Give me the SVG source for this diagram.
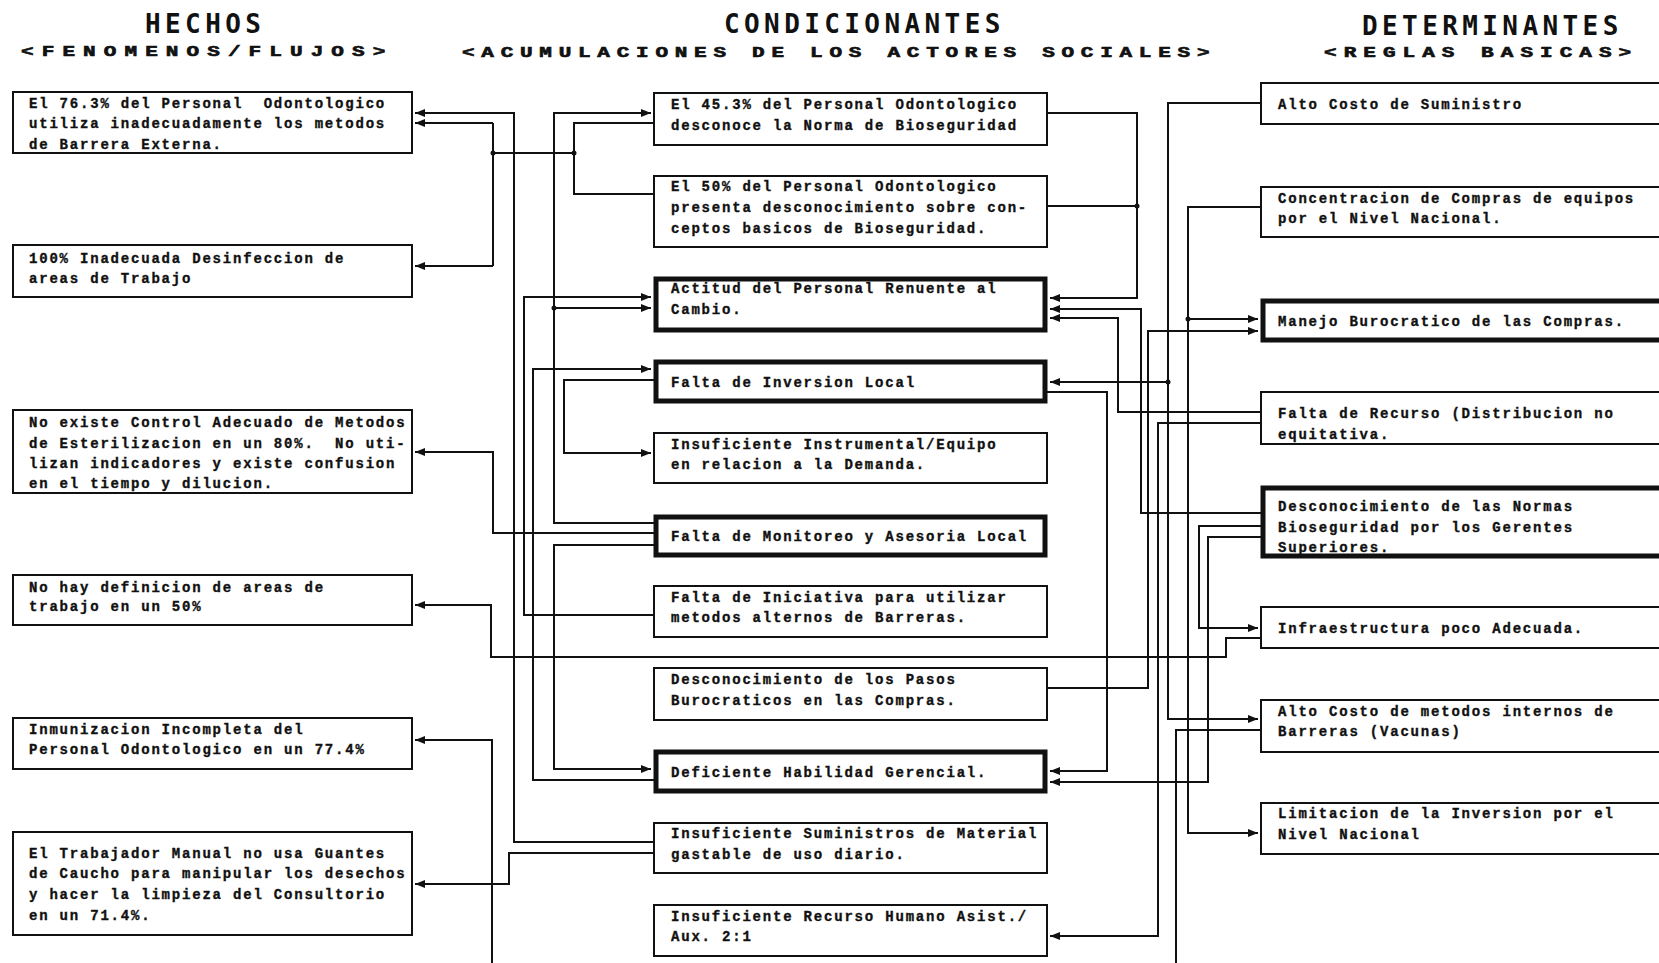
<svg xmlns="http://www.w3.org/2000/svg" width="1659" height="963" viewBox="0 0 1659 963">
<style>
.t{font-family:"Liberation Mono","DejaVu Sans Mono",monospace;font-size:14px;font-weight:bold;letter-spacing:1.8px;fill:#111;stroke:#111;stroke-width:0.35;white-space:pre}
.h{font-family:"DejaVu Sans Mono","Liberation Mono",monospace;font-size:26px;font-weight:bold;letter-spacing:4.4px;fill:#111}
.s{font-family:"Liberation Mono","DejaVu Sans Mono",monospace;font-size:14px;font-weight:bold;fill:#111;stroke:#111;stroke-width:0.6;white-space:pre}
.box{fill:#fff;stroke:#111;stroke-width:2}
.thick{fill:#fff;stroke:#111;stroke-width:5}
.c{fill:none;stroke:#111;stroke-width:2}
.a{fill:none;stroke:#111;stroke-width:2;marker-end:url(#ah)}
.j{fill:#111}
</style>
<defs>
<marker id="ah" viewBox="0 0 10 8" refX="10" refY="4" markerWidth="10" markerHeight="8" markerUnits="userSpaceOnUse" orient="auto"><path d="M0,0 L10,4 L0,8 z" fill="#111"/></marker>
</defs>
<rect width="1659" height="963" fill="#fff"/>
<g id="titles">
<text class="h" x="145" y="33">HECHOS</text>
<text class="s" transform="translate(21,56) scale(1.5,1)" letter-spacing="5.4">&lt;FENOMENOS/FLUJOS&gt;</text>
<text class="h" x="724" y="33">CONDICIONANTES</text>
<text class="s" transform="translate(462,57) scale(1.5,1)" letter-spacing="4.5">&lt;ACUMULACIONES DE LOS ACTORES SOCIALES&gt;</text>
<text class="h" x="1362" y="35">DETERMINANTES</text>
<text class="s" transform="translate(1324,57) scale(1.5,1)" letter-spacing="4.7">&lt;REGLAS BASICAS&gt;</text>
</g>
<g id="connectors">
<path class="c" d="M654,123 L574,123 L574,194 L654,194 M574,153 L493,153 M493,123 L493,266"/>
<path class="a" d="M493,123 L415,123"/>
<path class="a" d="M493,266 L415,266"/>
<path class="a" d="M654,842 L514,842 L514,113 L415,113"/>
<path class="a" d="M654,853 L509,853 L509,884 L415,884"/>
<path class="a" d="M654,533 L493,533 L493,452 L415,452"/>
<path class="a" d="M1261,638 L1226,638 L1226,657 L491,657 L491,605 L415,605"/>
<path class="a" d="M492,970 L492,740 L415,740"/>
<path class="c" d="M1261,730 L1176,730 L1176,970"/>
<path class="a" d="M654,523 L554,523 L554,113 L651,113"/>
<path class="a" d="M554,308 L651,308"/>
<path class="a" d="M654,615 L524,615 L524,297 L651,297"/>
<path class="a" d="M654,780 L533,780 L533,369 L651,369"/>
<path class="a" d="M654,380 L564,380 L564,453 L651,453"/>
<path class="a" d="M654,545 L554,545 L554,769 L651,769"/>
<path class="a" d="M1047,113 L1137,113 L1137,298 L1050,298"/>
<path class="c" d="M1047,206 L1137,206"/>
<path class="a" d="M1261,513 L1141,513 L1141,309 L1050,309"/>
<path class="a" d="M1261,412 L1118,412 L1118,318 L1050,318"/>
<path class="a" d="M1047,688 L1148,688 L1148,331 L1258,331"/>
<path class="a" d="M1261,103 L1168,103 L1168,719 L1258,719"/>
<path class="a" d="M1168,382 L1050,382"/>
<path class="a" d="M1261,207 L1188,207 L1188,833 L1258,833"/>
<path class="a" d="M1188,319 L1258,319"/>
<path class="a" d="M1047,392 L1107,392 L1107,771 L1050,771"/>
<path class="a" d="M1261,423 L1158,423 L1158,936 L1050,936"/>
<path class="a" d="M1261,526 L1199,526 L1199,628 L1258,628"/>
<path class="a" d="M1261,537 L1208,537 L1208,782 L1050,782"/>
<circle class="j" cx="574" cy="153" r="2.5"/>
<circle class="j" cx="493" cy="153" r="2.5"/>
<circle class="j" cx="554" cy="308" r="2.5"/>
<circle class="j" cx="1137" cy="206" r="2.5"/>
<circle class="j" cx="1168" cy="382" r="2.5"/>
<circle class="j" cx="1188" cy="319" r="2.5"/>
</g>
<g id="L1"><rect class="box" x="13" y="92" width="399" height="61"/>
<text class="t" x="29" y="108">El 76.3% del Personal  Odontologico</text>
<text class="t" x="29" y="128">utiliza inadecuadamente los metodos</text>
<text class="t" x="29" y="149">de Barrera Externa.</text></g>
<g id="L2"><rect class="box" x="13" y="245" width="399" height="52"/>
<text class="t" x="29" y="263">100% Inadecuada Desinfeccion de</text>
<text class="t" x="29" y="283">areas de Trabajo</text></g>
<g id="L3"><rect class="box" x="13" y="410" width="399" height="83"/>
<text class="t" x="29" y="427">No existe Control Adecuado de Metodos</text>
<text class="t" x="29" y="448">de Esterilizacion en un 80%.  No uti-</text>
<text class="t" x="29" y="468">lizan indicadores y existe confusion</text>
<text class="t" x="29" y="488">en el tiempo y dilucion.</text></g>
<g id="L4"><rect class="box" x="13" y="575" width="399" height="50"/>
<text class="t" x="29" y="592">No hay definicion de areas de</text>
<text class="t" x="29" y="611">trabajo en un 50%</text></g>
<g id="L5"><rect class="box" x="13" y="718" width="399" height="51"/>
<text class="t" x="29" y="734">Inmunizacion Incompleta del</text>
<text class="t" x="29" y="754">Personal Odontologico en un 77.4%</text></g>
<g id="L6"><rect class="box" x="13" y="832" width="399" height="103"/>
<text class="t" x="29" y="858">El Trabajador Manual no usa Guantes</text>
<text class="t" x="29" y="878">de Caucho para manipular los desechos</text>
<text class="t" x="29" y="899">y hacer la limpieza del Consultorio</text>
<text class="t" x="29" y="920">en un 71.4%.</text></g>
<g id="C1"><rect class="box" x="654" y="93" width="393" height="52"/>
<text class="t" x="671" y="109">El 45.3% del Personal Odontologico</text>
<text class="t" x="671" y="130">desconoce la Norma de Bioseguridad</text></g>
<g id="C2"><rect class="box" x="654" y="176" width="393" height="71"/>
<text class="t" x="671" y="191">El 50% del Personal Odontologico</text>
<text class="t" x="671" y="212">presenta desconocimiento sobre con-</text>
<text class="t" x="671" y="233">ceptos basicos de Bioseguridad.</text></g>
<g id="C3"><rect class="thick" x="656" y="279" width="389" height="51"/>
<text class="t" x="671" y="293">Actitud del Personal Renuente al</text>
<text class="t" x="671" y="314">Cambio.</text></g>
<g id="C4"><rect class="thick" x="656" y="362" width="389" height="39"/>
<text class="t" x="671" y="387">Falta de Inversion Local</text></g>
<g id="C5"><rect class="box" x="654" y="433" width="393" height="50"/>
<text class="t" x="671" y="449">Insuficiente Instrumental/Equipo</text>
<text class="t" x="671" y="469">en relacion a la Demanda.</text></g>
<g id="C6"><rect class="thick" x="656" y="517" width="389" height="38"/>
<text class="t" x="671" y="541">Falta de Monitoreo y Asesoria Local</text></g>
<g id="C7"><rect class="box" x="654" y="586" width="393" height="51"/>
<text class="t" x="671" y="602">Falta de Iniciativa para utilizar</text>
<text class="t" x="671" y="622">metodos alternos de Barreras.</text></g>
<g id="C8"><rect class="box" x="654" y="668" width="393" height="52"/>
<text class="t" x="671" y="684">Desconocimiento de los Pasos</text>
<text class="t" x="671" y="705">Burocraticos en las Compras.</text></g>
<g id="C9"><rect class="thick" x="656" y="752" width="389" height="39"/>
<text class="t" x="671" y="777">Deficiente Habilidad Gerencial.</text></g>
<g id="C10"><rect class="box" x="654" y="823" width="393" height="50"/>
<text class="t" x="671" y="838">Insuficiente Suministros de Material</text>
<text class="t" x="671" y="859">gastable de uso diario.</text></g>
<g id="C11"><rect class="box" x="654" y="905" width="393" height="51"/>
<text class="t" x="671" y="921">Insuficiente Recurso Humano Asist./</text>
<text class="t" x="671" y="941">Aux. 2:1</text></g>
<g id="R1"><rect class="box" x="1261" y="83" width="420" height="41"/>
<text class="t" x="1278" y="109">Alto Costo de Suministro</text></g>
<g id="R2"><rect class="box" x="1261" y="187" width="420" height="50"/>
<text class="t" x="1278" y="203">Concentracion de Compras de equipos</text>
<text class="t" x="1278" y="223">por el Nivel Nacional.</text></g>
<g id="R3"><rect class="thick" x="1263" y="301" width="420" height="39"/>
<text class="t" x="1278" y="326">Manejo Burocratico de las Compras.</text></g>
<g id="R4"><rect class="box" x="1261" y="392" width="420" height="52"/>
<text class="t" x="1278" y="418">Falta de Recurso (Distribucion no</text>
<text class="t" x="1278" y="439">equitativa.</text></g>
<g id="R5"><rect class="thick" x="1263" y="488" width="420" height="68"/>
<text class="t" x="1278" y="511">Desconocimiento de las Normas</text>
<text class="t" x="1278" y="532">Bioseguridad por los Gerentes</text>
<text class="t" x="1278" y="552">Superiores.</text></g>
<g id="R6"><rect class="box" x="1261" y="607" width="420" height="41"/>
<text class="t" x="1278" y="633">Infraestructura poco Adecuada.</text></g>
<g id="R7"><rect class="box" x="1261" y="700" width="420" height="52"/>
<text class="t" x="1278" y="716">Alto Costo de metodos internos de</text>
<text class="t" x="1278" y="736">Barreras (Vacunas)</text></g>
<g id="R8"><rect class="box" x="1261" y="803" width="420" height="51"/>
<text class="t" x="1278" y="818">Limitacion de la Inversion por el</text>
<text class="t" x="1278" y="839">Nivel Nacional</text></g>
</svg>
